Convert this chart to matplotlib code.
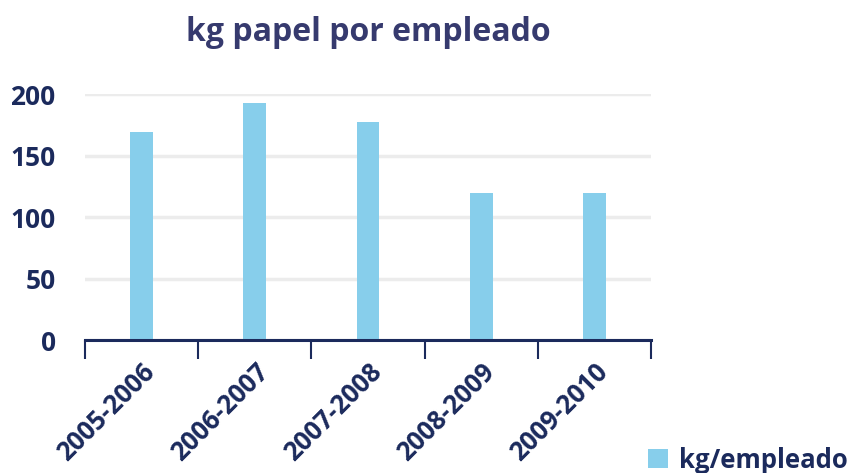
import matplotlib.pyplot as plt
import numpy as np

# data
periods = ['2005-2006', '2006-2007', '2007-2008', '2008-2009', '2009-2010']
kg_per_employee = [169, 193, 177, 119.5, 119.5]
series_name = 'kg/empleado'

navy = '#1b2a5c'
title_col = '#363a6e'
bar_col = '#87ceeb'

plt.rcParams['font.family'] = ['Open Sans', 'DejaVu Sans']
plt.rcParams['font.weight'] = 'bold'

fig = plt.figure(figsize=(8.49, 4.73), dpi=100)
ax = fig.add_axes([0.100, 0.281, 0.667, 0.520])

pos = np.arange(len(periods))
ax.bar(pos, kg_per_employee, width=0.2, color=bar_col, label=series_name, zorder=2)

ax.set_xlim(-0.5, len(periods) - 0.5)
ax.set_ylim(0, 200)
ax.set_yticks([0, 50, 100, 150, 200])
ax.yaxis.grid(True, color='#ececec', linewidth=2.5, zorder=0)
ax.tick_params(axis='y', length=0, pad=21, labelsize=19, labelcolor=navy)

# category labels, ticks at boundaries
ax.set_xticks(pos)
ax.set_xticklabels(periods, rotation=45, ha='right', rotation_mode='anchor',
                   fontsize=18.5, color=navy, fontweight='bold')
ax.tick_params(axis='x', length=0, pad=13)
ax.set_xticks(np.arange(-0.5, len(periods)), minor=True)
ax.tick_params(axis='x', which='minor', length=14, width=1.5, color=navy)

for s in ['top', 'right', 'left']:
    ax.spines[s].set_visible(False)
ax.spines['bottom'].set_color(navy)
ax.spines['bottom'].set_linewidth(2.2)

ax.set_title('kg papel por empleado', fontsize=23, color=title_col,
             fontweight='bold', pad=38)

leg = fig.legend(loc='lower right', bbox_to_anchor=(1.026, -0.05), frameon=False,
                 fontsize=18.5, handlelength=0.75, handleheight=0.8, handletextpad=0.45)
for t in leg.get_texts():
    t.set_color(navy)

fig.savefig('out.png', dpi=100)
